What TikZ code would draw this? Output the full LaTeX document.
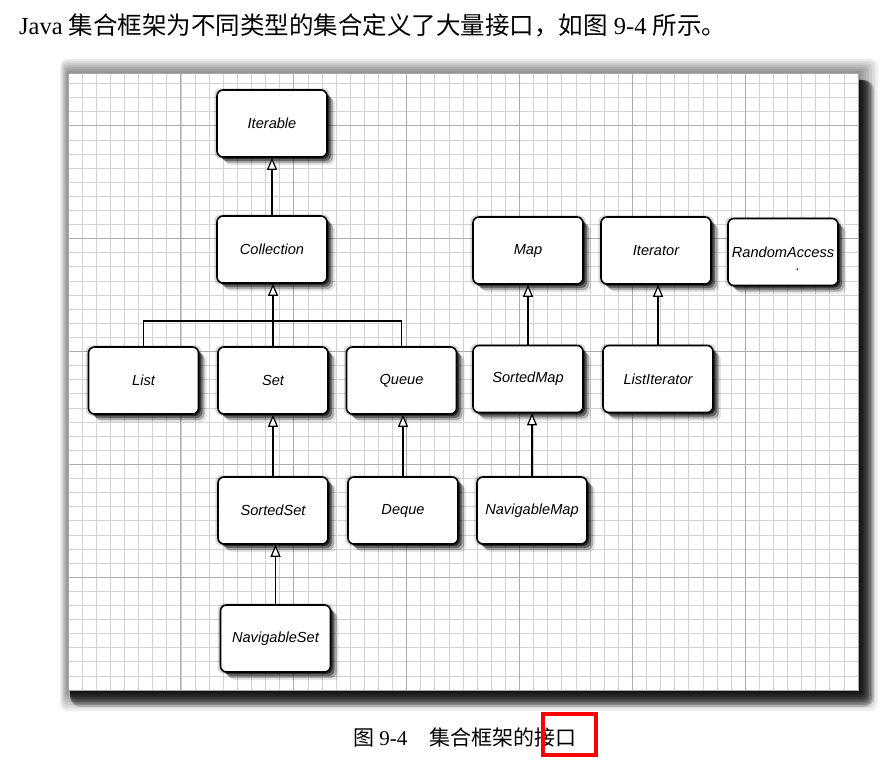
\documentclass[tikz,border=0pt]{standalone}
\usepackage{fontspec}
\setmainfont{Liberation Serif}
\setsansfont{Liberation Sans}
\newfontfamily\cjk{Noto Sans CJK SC}
\usepackage{tikz}
\usetikzlibrary{arrows.meta, positioning, shadows}

\begin{document}
\begin{tikzpicture}[x=1pt, y=-1pt,
  iface/.style={draw, line width=1.6pt, fill=white, rounded corners=6pt,
    minimum width=110pt, minimum height=67pt,
    font=\fontsize{14.6}{17}\selectfont\sffamily\itshape,
    drop shadow={shadow xshift=8pt, shadow yshift=-8pt, opacity=0.1, fill=black},
    drop shadow={shadow xshift=6pt, shadow yshift=-6pt, opacity=0.25, fill=black},
    drop shadow={shadow xshift=4pt, shadow yshift=-4pt, opacity=0.4, fill=black},
    drop shadow={shadow xshift=2pt, shadow yshift=-2pt, opacity=0.5, fill=black},
    drop shadow={shadow scale=1.05, shadow xshift=0pt, shadow yshift=0pt, opacity=0.15, fill=black}},
  inherit/.style={line width=1.6pt,
    -{Triangle[length=12pt, width=10pt, fill=white, line width=1.2pt]}},
  link/.style={line width=1.6pt},
  gridminor/.style={gray!35, line width=0.6pt},
  gridmajor/.style={gray!65, line width=0.8pt}]

  \useasboundingbox (0,0) rectangle (891,765);
  \fill[white] (0,0) rectangle (891,765);

  % Text above the figure
  \node[anchor=base west, inner sep=0pt, font=\fontsize{24.5}{28}\selectfont] (intro) at (19,35)
    {Java {\cjk 集合框架为不同类型的集合定义了大量接口，如图} 9-4 {\cjk 所示。}};

  % Shadow round the grid sheet
  \foreach \k in {1,...,7}
    \fill[black, opacity=0.07, rounded corners=\k pt] (68-\k*1.1, 73-\k*2) rectangle (858+\k*2.8, 690+\k*3);
  \foreach \k in {1,...,10}
    \fill[black, opacity=0.18, rounded corners=\k pt] (70,80) rectangle (858+\k*1.6, 690+\k*1.7);

  % Grid sheet
  \fill[white] (68,73) rectangle (858,690);
  \foreach \i in {1,...,55}
    \draw[gridminor] ({68+\i*14.107},73) -- ({68+\i*14.107},690);
  \foreach \j in {1,...,43}
    \draw[gridminor] (68,{690-\j*14.107}) -- (858,{690-\j*14.107});
  \foreach \i in {8,16,...,48}
    \draw[gridmajor] ({68+\i*14.107},73) -- ({68+\i*14.107},690);
  \foreach \j in {8,16,...,40}
    \draw[gridmajor] (68,{690-\j*14.107}) -- (858,{690-\j*14.107});
  \draw[gray!70, line width=0.6pt] (68,73) rectangle (858,690);

  % Interfaces
  \node[iface] (iterable) at (272,123.5) {Iterable};
  \node[iface] (collection) at (272,249.5) {Collection};
  \node[iface] (list) at (143.5,380.5) {List};
  \node[iface] (set) at (273,380.5) {Set};
  \node[iface] (queue) at (401.5,380.5) {Queue};
  \node[iface] (map) at (528,250.5) {Map};
  \node[iface] (iterator) at (656,250.5) {Iterator};
  \node[iface] (randomaccess) at (783,252)
    {RandomAccess\llap{\smash{\raisebox{-13pt}{.}}\hspace{34pt}}};
  \node[iface] (sortedmap) at (528,379) {SortedMap};
  \node[iface] (listiterator) at (658,379) {ListIterator};
  \node[iface] (sortedset) at (273,510.5) {SortedSet};
  \node[iface] (deque) at (403,510.5) {Deque};
  \node[iface] (navigablemap) at (532,510.5) {NavigableMap};
  \node[iface] (navigableset) at (275.5,638.5) {NavigableSet};

  % Inheritance arrows
  \coordinate (bar) at (272,321);
  \draw[link] (list.north) |- (bar) -| (queue.north);
  \draw[inherit] (collection.north) -- (collection.north |- iterable.south);
  \draw[inherit] (set.north) -- (set.north |- collection.south);
  \draw[inherit] (sortedset.north) -- (sortedset.north |- set.south);
  \draw[inherit] (navigableset.north) -- (navigableset.north |- sortedset.south);
  \draw[inherit] (deque.north) -- (deque.north |- queue.south);
  \draw[inherit] (sortedmap.north) -- (sortedmap.north |- map.south);
  \draw[inherit] (navigablemap.north) -- (navigablemap.north |- sortedmap.south);
  \draw[inherit] (listiterator.north) -- (listiterator.north |- iterator.south);

  % Caption
  \node[anchor=base west, inner sep=0pt, font=\fontsize{21}{25}\selectfont] (caption) at (353,745)
    {{\cjk 图} 9-4\hspace{22pt}{\cjk 集合框架的接口}};
  \draw[red, line width=3.5pt] (543,714) rectangle (596,755);
\end{tikzpicture}
\end{document}
